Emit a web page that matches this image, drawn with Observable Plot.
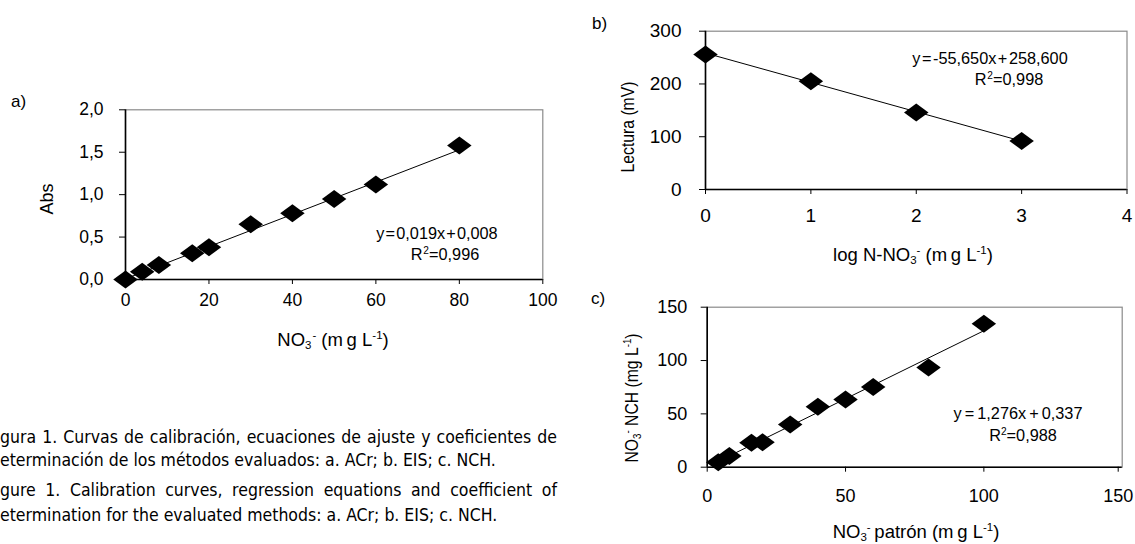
<!DOCTYPE html>
<html><head><meta charset="utf-8">
<script src="https://cdn.jsdelivr.net/npm/d3@7"></script>
<script src="https://cdn.jsdelivr.net/npm/@observablehq/plot@0.6"></script>
<style>
body{margin:0;background:#fff;}
#root{position:relative;width:1135px;height:544px;overflow:hidden;font-family:"Liberation Sans",Arial,sans-serif;color:#000;}
#root svg{position:absolute;left:0;top:0;}
.t{position:absolute;white-space:nowrap;line-height:1;transform:translate(-50%,-50%);font-size:16.3px;}
.rot{transform:translate(-50%,-50%) rotate(-90deg);}
.rotn{transform:translate(-50%,-50%) rotate(-90deg) scaleX(0.85);}
.ttl{font-size:18.5px;}
.lab{position:absolute;line-height:1;font-size:17px;transform:translateY(-50%);}
.t sub{font-size:0.62em;vertical-align:-0.3em;line-height:0;}
.t sup{font-size:0.62em;vertical-align:0.55em;line-height:0;}
.cap{position:absolute;white-space:nowrap;font-family:"DejaVu Sans Condensed","Liberation Sans Narrow",sans-serif;font-size:17.5px;line-height:18px;text-align:justify;text-align-last:justify;}
.cap.last{text-align-last:left;}
</style></head><body><div id="root"></div>
<script>
// ---- data ----
// a) ACr
const concA = [0, 4, 8, 16, 20, 30, 40, 50, 60, 80];
const absA  = [0, 0.09, 0.17, 0.31, 0.38, 0.65, 0.78, 0.95, 1.12, 1.58];
const fitA = {slope: 0.019, intercept: 0.008};
const xTicksA = [0, 20, 40, 60, 80, 100];
const yTicksA = [0, 0.5, 1, 1.5, 2];
// b) EIS
const logB = [0, 1, 2, 3];
const mvB  = [256, 205, 146, 92];
const fitB = {slope: -55.65, intercept: 258.6};
const xTicksB = [0, 1, 2, 3, 4];
const yTicksB = [0, 100, 200, 300];
// c) NCH
const patronC = [4, 8, 16, 20, 30, 40, 50, 60, 80, 100];
const nchC    = [4.7, 10.6, 23, 23.3, 40, 56.6, 63.5, 75.3, 93.4, 134.5];
const fitC = {slope: 1.276, intercept: 0.337};
const xTicksC = [0, 50, 100, 150];
const yTicksC = [0, 50, 100, 150];

const captionLines = [
  ["Fi", "gura 1. Curvas de calibración, ecuaciones de ajuste y coeficientes de", false],
  ["d", "eterminación de los métodos evaluados: a. ACr; b. EIS; c. NCH.", true],
  ["Fi", "gure 1. Calibration curves, regression equations and coefficient of", false],
  ["d", "etermination for the evaluated methods: a. ACr; b. EIS; c. NCH.", true]
];

const root = document.getElementById("root");
const W = 1135, H = 544;

// diamond marker, wider than tall (as in the spreadsheet chart)
const wideDiamond = {
  draw(ctx, size) {
    const s = Math.sqrt(size / Math.PI);
    const hx = s * 1.36, hy = s * 1.0;
    ctx.moveTo(0, -hy); ctx.lineTo(hx, 0); ctx.lineTo(0, hy); ctx.lineTo(-hx, 0); ctx.closePath();
  }
};

function panel(o) {
  const data = o.xs.map((x, i) => ({x, y: o.ys[i]}));
  const x0 = d3.min(o.xs), x1 = d3.max(o.xs);
  const line = [x0, x1].map(x => ({x, y: o.fit.intercept + o.fit.slope * x}));
  const n = o.xTicks.length;
  const xAxes = o.lastDx
    ? [Plot.axisX({ticks: o.xTicks.slice(0, n - 1), tickSize: 5, tickPadding: o.xPad, label: null, tickFormat: d => String(d)}),
       Plot.axisX({ticks: o.xTicks.slice(n - 1), tickSize: 5, tickPadding: o.xPad, label: null, tickFormat: d => String(d), dx: o.lastDx})]
    : [Plot.axisX({ticks: o.xTicks, tickSize: 5, tickPadding: o.xPad, label: null, tickFormat: d => String(d)})];
  const chart = Plot.plot({
    width: W, height: H,
    marginLeft: o.frame[0], marginRight: W - o.frame[1],
    marginTop: o.frame[2], marginBottom: H - o.frame[3],
    style: {fontFamily: '"Liberation Sans", Arial, sans-serif', fontSize: o.fs + "px", background: "transparent", overflow: "visible", color: "#000"},
    x: {domain: [o.xTicks[0], o.xTicks[n - 1]]},
    y: {domain: [o.yTicks[0], o.yTicks[o.yTicks.length - 1]]},
    marks: [
      Plot.frame({stroke: "#8a8a8a", strokeWidth: 1.2}),
      ...xAxes,
      Plot.axisY({ticks: o.yTicks, tickSize: 6, tickPadding: o.yPad, label: null, tickFormat: o.fmtY}),
      Plot.ruleX([o.xTicks[0]], {stroke: "#000", strokeWidth: 1.6}),
      Plot.ruleY([o.yTicks[0]], {stroke: "#000", strokeWidth: 1.6}),
      Plot.line(line, {x: "x", y: "y", stroke: "#000", strokeWidth: 1}),
      Plot.dot(data, {x: "x", y: "y", symbol: wideDiamond, r: 9, fill: "#000", stroke: "none"})
    ]
  });
  root.appendChild(chart);
}

panel({xs: concA, ys: absA, fit: fitA, xTicks: xTicksA, yTicks: yTicksA,
  fmtY: d => d3.format(".1f")(d).replace(".", ","),
  frame: [125, 542.3, 109.3, 279], fs: 17.5, xPad: 9.5, yPad: 16});
panel({xs: logB, ys: mvB, fit: fitB, xTicks: xTicksB, yTicks: yTicksB,
  fmtY: d => String(d),
  frame: [705, 1126.5, 30.7, 189], fs: 19, xPad: 14, yPad: 18});
panel({xs: patronC, ys: nchC, fit: fitC, xTicks: xTicksC, yTicks: yTicksC,
  fmtY: d => String(d),
  frame: [706.7, 1121.7, 306.7, 466.7], fs: 18, xPad: 17, yPad: 14, lastDx: -4});

function txt(html, x, y, cls, style) {
  const d = document.createElement("div");
  d.className = "t " + (cls || "");
  d.innerHTML = html;
  d.style.left = x + "px"; d.style.top = y + "px";
  if (style) Object.assign(d.style, style);
  root.appendChild(d);
  return d;
}
function lab(s, x, y) {
  const d = document.createElement("div");
  d.className = "lab"; d.textContent = s;
  d.style.left = x + "px"; d.style.top = y + "px";
  root.appendChild(d);
}

// panel letters
lab("a)", 11, 101);
lab("b)", 592, 23);
lab("c)", 591, 298);

// equations
txt("y = 0,019x + 0,008", 437, 233, "", {wordSpacing: "-3.4px"});
txt("R<sup>&#8202;2</sup>=0,996", 445, 254);
txt("y = -55,650x + 258,600", 990, 58, "", {wordSpacing: "-3px"});
txt("R<sup>&#8202;2</sup>=0,998", 1009, 79);
txt("y = 1,276x + 0,337", 1018, 413, "", {wordSpacing: "-1.5px"});
txt("R<sup>2</sup>=0,988", 1023, 435);

// axis titles
txt("NO<sub>3</sub><sup>&#8202;-</sup> (m&#8201;g L<sup>-1</sup>)", 333, 340, "ttl");
txt("Abs", 47, 199, "rot", {fontSize: "18px"});
txt("log N-NO<sub>3</sub><sup>-</sup> (m&#8201;g L<sup>-1</sup>)", 913, 255, "ttl");
txt("Lectura (mV)", 628, 127, "rotn", {fontSize: "18.5px"});
txt("NO<sub>3</sub><sup>-</sup>&#8201;patrón (m&#8201;g L<sup>-1</sup>)", 916, 532, "ttl");
txt("NO<sub>3</sub><sup>-</sup> NCH (mg L<sup>-1</sup>)", 632, 398, "rotn", {fontSize: "18.5px"});

// caption
const baselines = [442, 465, 495, 520];
captionLines.forEach(([cut, rest, last], i) => {
  const d = document.createElement("div");
  d.className = "cap" + (last ? " last" : "");
  d.innerHTML = '<span class="cut">' + cut + '</span>' + rest;
  d.style.top = (baselines[i] - 14) + "px";
  root.appendChild(d);
  const cw = d.querySelector(".cut").getBoundingClientRect().width;
  d.style.left = (-cw) + "px";
  d.style.width = (last ? 520 : 557) + cw + "px";
});
</script></body></html>
